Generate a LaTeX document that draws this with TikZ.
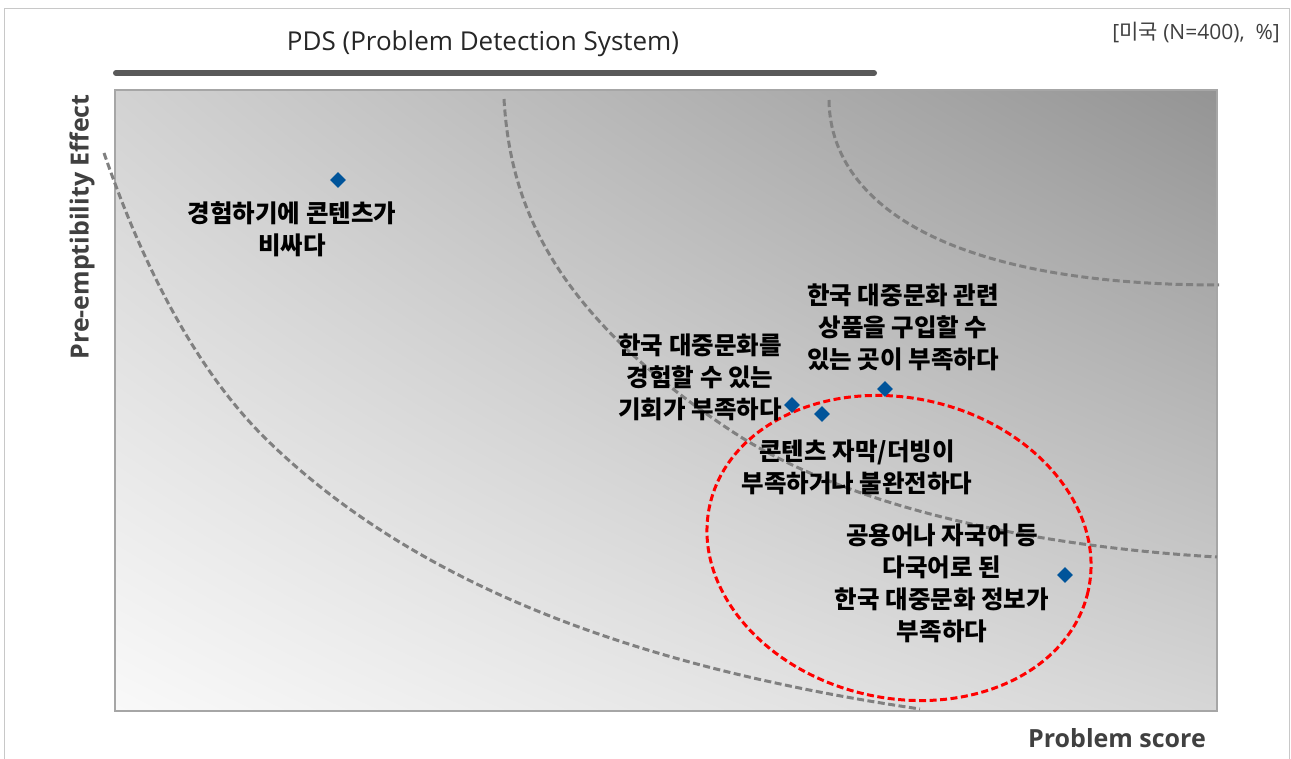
\documentclass[tikz,border=0pt]{standalone}
\usepackage{fontspec}
\setmainfont{Noto Sans CJK KR}
\newfontfamily\latinfont{Open Sans}
\usetikzlibrary{shapes.geometric,shadings}
\definecolor{frame}{HTML}{C8C8C8}
\definecolor{plotborder}{HTML}{A6A6A6}
\definecolor{barcol}{HTML}{595959}
\definecolor{curvecol}{HTML}{808080}
\definecolor{dotcol}{HTML}{00549A}
\definecolor{titlecol}{HTML}{262626}
\definecolor{axiscol}{HTML}{404040}
\definecolor{gUL}{RGB}{210,210,210}
\definecolor{gUR}{RGB}{148,148,148}
\definecolor{gLL}{RGB}{249,249,249}
\definecolor{gLR}{RGB}{214,214,214}
\tikzset{
  curve/.style={draw=curvecol, line width=3pt, dash pattern=on 7pt off 3.5pt},
  dot/.style={diamond, fill=dotcol, inner sep=0pt, minimum size=16pt},
  lbl/.style={align=center, inner sep=0pt, text=black, font=\bfseries\fontsize{24.5}{32}\selectfont},
  axislbl/.style={text=axiscol, inner sep=0pt, font=\latinfont\bfseries\fontsize{25}{28}\selectfont}
}
\begin{document}
\begin{tikzpicture}[x=1pt,y=-1pt]
\useasboundingbox (0,0) rectangle (1291,759);
\fill[white] (0,0) rectangle (1291,759);
\draw[frame, line width=1.2pt] (4.5,800) -- (4.5,8.5) -- (1289.5,8.5) -- (1289.5,800);
% title
\node[text=titlecol, inner sep=0pt, font=\latinfont\fontsize{26}{30}\selectfont] (title) at (483,44) {PDS (Problem Detection System)};
\draw[barcol, line width=6pt, line cap=round] (116,73) -- (874,73);
\node[text=axiscol, inner sep=0pt, anchor=east, font=\latinfont\fontsize{21}{24}\selectfont] (unit) at (1280,32) {[{\rmfamily\fontsize{21}{24}\selectfont 미국} (N=400),~~\%]};
% plot area
\shade[upper left=gUL, upper right=gUR, lower left=gLL, lower right=gLR] (115,90) rectangle (1217,711);
\draw[plotborder, line width=1.5pt] (115,90) rectangle (1217,711);
% axis labels
\node[axislbl, rotate=90] (ylab) at (82,227) {Pre-emptibility Effect};
\node[axislbl] (xlab) at (1117,738) {Problem score};
% curves
\draw[curve] (104,153) .. controls (130,228) and (181,356) .. (267,440)
                        .. controls (415,584) and (634,667) .. (920,709);
\draw[curve] (504,99) .. controls (510,200) and (548,310) .. (733,432)
                       .. controls (844,505) and (1026,546) .. (1217,557);
\draw[curve] (829,100) .. controls (830,200) and (940,285) .. (1219,285);
% red ellipse
\draw[red, line width=3pt, dash pattern=on 7pt off 3.5pt, rotate around={-13:(899,548)}] (899,548) ellipse [x radius=194, y radius=150];
% points
\node[dot] (p1) at (338,180) {};
\node[dot] (p2) at (792,405) {};
\node[dot] (p3) at (822,414) {};
\node[dot] (p4) at (885,389) {};
\node[dot] (p5) at (1065,575) {};
% labels
\node[lbl] (l1) at (292,229) {경험하기에 콘텐츠가\\비싸다};
\node[lbl] (l2) at (700,377) {한국 대중문화를\\경험할 수 있는\\기회가 부족하다};
\node[lbl] (l4) at (903,327) {한국 대중문화 관련\\상품을 구입할 수\\있는 곳이 부족하다};
\node[lbl] (l3) at (857,467) {콘텐츠 자막/더빙이\\부족하거나 불완전하다};
\node[lbl] (l5) at (942,583) {공용어나 자국어 등\\다국어로 된\\한국 대중문화 정보가\\부족하다};
\end{tikzpicture}
\end{document}
